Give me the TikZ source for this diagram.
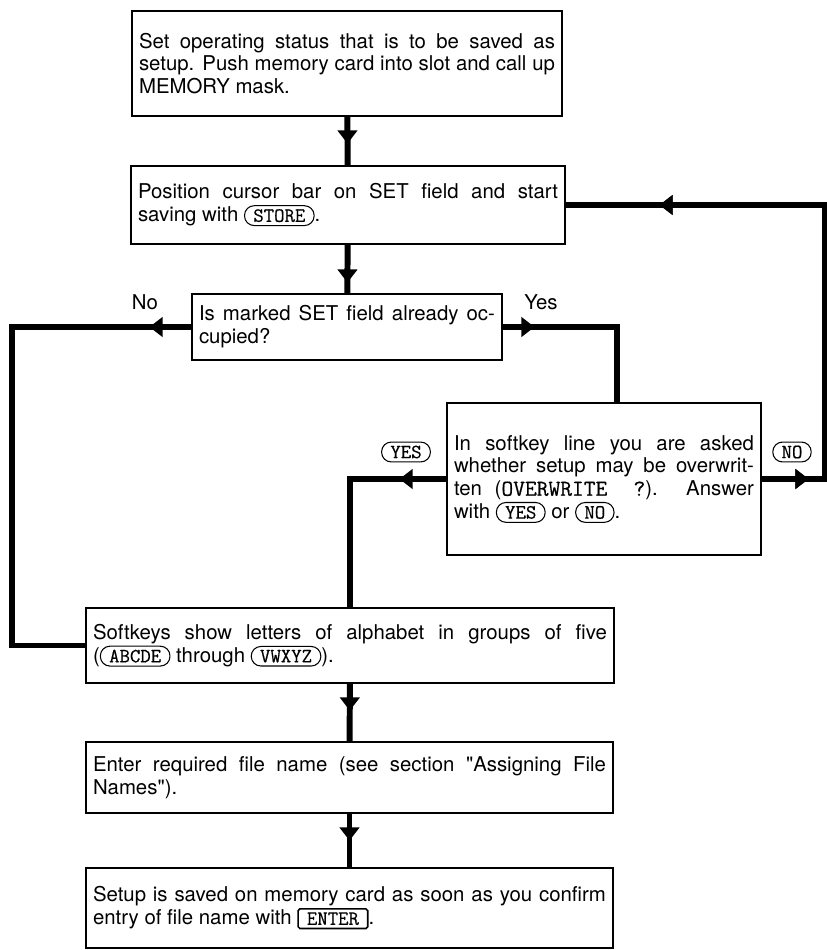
\documentclass[tikz,border=0pt]{standalone}
\usepackage{fontspec}
\setmainfont{TeX Gyre Heros}
\newfontfamily\keyfont{Latin Modern Mono}[FakeBold=0.5]
\usepackage{tikz}
\usetikzlibrary{arrows.meta}
\usetikzlibrary{decorations.markings}
\newcommand{\softkey}[1]{\tikz[baseline=(k.base)]\node[keycap](k){#1};}
\newcommand{\hardkey}[1]{\tikz[baseline=(k.base)]\node[keycap,rounded corners=1pt,line width=0.9pt](k){#1};}
\tikzset{
  keycap/.style={draw,line width=0.6pt,rounded corners=5.5pt,inner xsep=5pt,inner ysep=2pt,text width=,align=center,minimum height=0pt,minimum width=0pt,font=\keyfont\fontsize{11.5}{12}\selectfont},
  stepbox/.style={draw,line width=0.7pt,inner xsep=0.14cm,inner ysep=0pt,align=justify,font=\fontsize{11.6}{13}\selectfont},
  lbl/.style={font=\fontsize{11.6}{13}\selectfont},
  flow/.style={line width=3.4pt},
  tipat/.style={postaction={decorate},decoration={markings,mark=at position #1 with {\arrow{Triangle[length=7.5pt,width=11pt]}}}}
}

\begin{document}
\begin{tikzpicture}[x=0.02cm,y=-0.02cm]
\useasboundingbox (0,0) rectangle (827,950);
\node[stepbox,text width=8.32cm,minimum height=2.10cm](set) at (347,63.5){Set operating status that is to be saved as\linebreak setup. Push memory card into slot and call up\linebreak MEMORY mask.};
\node[stepbox,text width=8.40cm,minimum height=1.56cm](cursor) at (348,205){Position cursor bar on SET field and start\linebreak saving with \softkey{STORE}.};
\node[stepbox,text width=5.92cm,minimum height=1.32cm](occupied) at (347,327){Is marked SET field already oc-\linebreak cupied?};
\node[stepbox,text width=6.00cm,minimum height=3.04cm](overwrite) at (604,479){In softkey line you are asked\linebreak whether setup may be overwrit-\linebreak ten ({\keyfont\fontsize{13}{13}\selectfont OVERWRITE ?}). Answer\linebreak with \softkey{YES} or \softkey{NO}.};
\node[stepbox,text width=10.28cm,minimum height=1.50cm](softkeys) at (350,645.5){Softkeys show letters of alphabet in groups of five\linebreak (\softkey{ABCDE} through \softkey{VWXYZ}).};
\node[stepbox,text width=10.26cm,minimum height=1.42cm](enter) at (349.5,777.5){Enter required file name (see section \textquotedbl Assigning File\linebreak Names\textquotedbl).};
\node[stepbox,text width=10.26cm,minimum height=1.60cm](saved) at (349.5,908){Setup is saved on memory card as soon as you confirm\linebreak entry of file name with \hardkey{ENTER}.};
\node[lbl](no) at (145,302){No};
\node[lbl](yes) at (541,302){Yes};
\node[keycap](yeskey) at (406,452){YES};
\node[keycap](nokey) at (792,452){NO};
\coordinate(leftrail) at (12,0);
\coordinate(yesdrop) at (617,0);
\coordinate(backrail) at (825,0);
\draw[flow,tipat=0.54cm](set) -- (cursor);
\draw[flow,tipat=0.76cm](cursor) -- (occupied);
\draw[flow,tipat=0.84cm](occupied.west) -| (leftrail |- softkeys.west) -- (softkeys.west);
\draw[flow,tipat=0.64cm](occupied.east) -| (yesdrop |- overwrite.north);
\draw[flow,tipat=0.94cm](overwrite.west) -| (softkeys.north);
\draw[flow,tipat=0.94cm,tipat=10.06cm](overwrite.east) -| (backrail |- cursor.east) -- (cursor.east);
\draw[flow,tipat=0.54cm](softkeys) -- (enter);
\draw[flow,tipat=0.54cm](enter) -- (saved);
\end{tikzpicture}
\end{document}
